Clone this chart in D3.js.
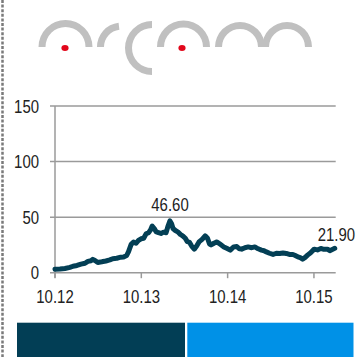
<!DOCTYPE html>
<html>
<head>
<meta charset="utf-8">
<script src="https://cdnjs.cloudflare.com/ajax/libs/d3/7.8.5/d3.min.js"></script>
<style>
  html, body { margin: 0; padding: 0; background: #fff; }
  svg { display: block; font-family: "Liberation Sans", Arial, sans-serif; }
</style>
</head>
<body>
<div id="chart"></div>
<script>
(function(){
    var width = 356,
        height = 357;

    // share price
    var dates = ["2012-10-01","2012-10-22","2012-11-12","2012-12-03","2012-12-16","2013-01-02","2013-01-19",
        "2013-02-05","2013-02-17","2013-03-02","2013-03-10","2013-03-19","2013-03-31","2013-04-17","2013-05-04",
        "2013-05-21","2013-06-02","2013-06-19","2013-07-06","2013-07-18","2013-07-31","2013-08-08","2013-08-19",
        "2013-08-29","2013-09-09","2013-09-19","2013-09-30","2013-10-11","2013-10-21","2013-11-01","2013-11-09",
        "2013-11-16","2013-11-24","2013-12-02","2013-12-13","2013-12-23","2014-01-03","2014-01-14","2014-01-22",
        "2014-01-30","2014-02-06","2014-02-12","2014-02-22","2014-03-04","2014-03-15","2014-03-25","2014-04-05",
        "2014-04-13","2014-04-22","2014-05-02","2014-05-13","2014-05-23","2014-06-02","2014-06-15","2014-06-28",
        "2014-07-08","2014-07-16","2014-07-23","2014-08-04","2014-08-17","2014-08-31","2014-09-15","2014-09-27",
        "2014-10-12","2014-10-26","2014-11-09","2014-11-20","2014-11-29","2014-12-13","2014-12-27","2015-01-11",
        "2015-01-24","2015-02-07","2015-02-21","2015-03-04","2015-03-14","2015-03-27","2015-04-11","2015-04-25",
        "2015-05-09","2015-05-23","2015-06-06","2015-06-19","2015-07-04","2015-07-14","2015-07-25","2015-08-04",
        "2015-08-14","2015-08-25","2015-09-04","2015-09-17","2015-10-02","2015-10-16","2015-10-30","2015-11-12",
        "2015-11-27","2015-12-07","2015-12-28"];
    var prices = [3.0,3.3,3.8,4.8,5.8,6.5,7.7,
        8.5,10.2,10.8,12.0,11.0,9.2,9.8,10.5,
        11.5,12.6,13.0,14.0,14.2,15.5,19,25.5,
        27.5,26.5,29,30.5,31,35,36,38.5,
        42,40,37,36,35.3,36.5,36,42,
        46.6,44,39.8,38,36.8,34.5,33.2,31,
        28,27.5,24,21.2,24,27.7,30,33.2,
        31,26,25,26.5,27.7,25.5,23.2,22,
        20.3,23.2,23.5,21.5,21.2,22.5,23.2,22.5,
        23.2,21.5,20.3,19.8,18.7,17.5,16.4,17.5,
        17.3,17.8,17.3,16.4,16.4,15.5,14.2,13.5,
        12.2,13.8,15.8,18,21.2,20.5,21.8,21,
        21.2,19.8,21.9];
    var yTicks = [0, 50, 100, 150];
    var xTicks = ["2012-10-01","2013-10-01","2014-10-01","2015-10-01"];
    var xDomain = ["2012-10-01","2016-01-01"];
    var labelHigh = 46.60, labelLast = 21.90;

    var parse = d3.timeParse("%Y-%m-%d");
    var data = dates.map(function(d, i){ return {date: parse(d), value: prices[i]} });

    var svg = d3.select("#chart")
        .append("svg")
        .attr("width", width)
        .attr("height", height);

    // dashed left border
    svg.append("line")
        .attr("x1", 2.5).attr("x2", 2.5)
        .attr("y1", 0).attr("y2", height)
        .attr("stroke", "#7a7a7a")
        .attr("stroke-width", 2.5)
        .attr("stroke-dasharray", "3,1.6");

    // logo "arcam": gray arcs + red dots
    var logo = svg.append("g").attr("class", "logo");
    var arcs = [
        {cx: 65.5, cy: 47, r: 27, s: -Math.PI/2, e: Math.PI/2},
        {cx: 121.5, cy: 47, r: 24.5, s: -Math.PI/2, e: -0.12},
        {cx: 152, cy: 48, r: 27, s: -Math.PI, e: 0},
        {cx: 183.5, cy: 47, r: 26.5, s: -Math.PI/2, e: Math.PI/2},
        {cx: 240, cy: 47, r: 25, s: -Math.PI/2, e: Math.PI/2},
        {cx: 287, cy: 47, r: 25, s: -Math.PI/2, e: Math.PI/2}
    ];
    var arcGen = d3.arc();
    logo.selectAll("path.arc")
        .data(arcs)
        .enter().append("path")
        .attr("class", "arc")
        .attr("transform", function(d){ return "translate(" + d.cx + "," + d.cy + ")" })
        .attr("d", function(d){
            return arcGen({innerRadius: d.r - 7, outerRadius: d.r, startAngle: d.s, endAngle: d.e})
        })
        .attr("fill", "#c0c0c0");
    logo.selectAll("ellipse")
        .data([65, 182])
        .enter().append("ellipse")
        .attr("cx", function(d){ return d })
        .attr("cy", 48)
        .attr("rx", 3.6).attr("ry", 3)
        .attr("fill", "#e2071b");

    // chart
    var x = d3.scaleTime()
        .domain(xDomain.map(parse))
        .range([55, 335.7]);
    var y = d3.scaleLinear()
        .domain([0, 150])
        .range([272.7, 106]);

    var grid = svg.append("g").attr("class", "grid");
    grid.selectAll("line")
        .data(yTicks)
        .enter().append("line")
        .attr("x1", 50).attr("x2", x.range()[1])
        .attr("y1", function(d){ return y(d) })
        .attr("y2", function(d){ return y(d) })
        .attr("stroke", "#9a9a9a")
        .attr("stroke-width", 1.5);

    // y axis line
    svg.append("line")
        .attr("x1", x.range()[0]).attr("x2", x.range()[0])
        .attr("y1", y(150)).attr("y2", y(0) + 5)
        .attr("stroke", "#9a9a9a")
        .attr("stroke-width", 1.5);

    // x ticks
    svg.append("g").selectAll("line")
        .data(xTicks)
        .enter().append("line")
        .attr("x1", function(d){ return x(parse(d)) })
        .attr("x2", function(d){ return x(parse(d)) })
        .attr("y1", y(0)).attr("y2", y(0) + 5.5)
        .attr("stroke", "#9a9a9a")
        .attr("stroke-width", 1.5);

    // narrow-looking labels: Liberation Sans squeezed horizontally
    var fs = 18, squeeze = 0.83;
    function label(g, tx, ty, anchor, txt){
        g.append("g")
            .attr("transform", "translate(" + tx + "," + ty + ") scale(" + squeeze + ",1)")
            .append("text")
            .attr("text-anchor", anchor)
            .attr("font-size", fs)
            .attr("fill", "#222")
            .text(txt);
    }

    var fmt = d3.timeFormat("%m.%y");
    var xl = svg.append("g").attr("class", "x-labels");
    xTicks.forEach(function(d){ label(xl, x(parse(d)), 302.5, "middle", fmt(parse(d))) });

    var yl = svg.append("g").attr("class", "y-labels");
    yTicks.forEach(function(d){ label(yl, 39, y(d) + 6.5, "end", d) });

    var line = d3.line()
        .x(function(d){ return x(d.date) })
        .y(function(d){ return y(d.value) });

    svg.append("path")
        .datum(data)
        .attr("d", line)
        .attr("fill", "none")
        .attr("stroke", "#033f55")
        .attr("stroke-width", 5)
        .attr("stroke-linejoin", "round")
        .attr("stroke-linecap", "round");

    label(svg, 170, 210.5, "middle", d3.format(".2f")(labelHigh));
    label(svg, 355, 240.5, "end", d3.format(".2f")(labelLast));

    // colour blocks at the bottom
    var blocks = [{x0: 17, x1: 185, c: "#023e55"}, {x0: 187.3, x1: 353.5, c: "#0091e7"}];
    svg.selectAll("rect.block")
        .data(blocks)
        .enter().append("rect")
        .attr("class", "block")
        .attr("x", function(d){ return d.x0 })
        .attr("width", function(d){ return d.x1 - d.x0 })
        .attr("y", 322.7)
        .attr("height", height - 322.7)
        .attr("fill", function(d){ return d.c });
})();
</script>
</body>
</html>
